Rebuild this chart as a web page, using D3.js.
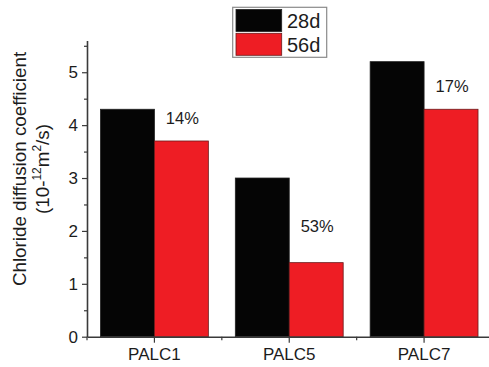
<!DOCTYPE html>
<html>
<head>
<meta charset="utf-8">
<script src="https://cdn.jsdelivr.net/npm/d3@7/dist/d3.min.js"></script>
<style>
  html, body { margin: 0; padding: 0; background: #fff; }
  svg { display: block; font-family: Arial, "Liberation Sans", sans-serif; }
</style>
</head>
<body>
<svg id="chart" width="489" height="367"></svg>
<script>
// Chloride diffusion coefficients (10^-12 m^2/s) at two curing ages
const categories = ["PALC1", "PALC5", "PALC7"];
const series = ["28d", "56d"];
const values28d = [4.3, 3.0, 5.2];
const values56d = [3.7, 1.4, 4.3];
const yTicks = [0, 1, 2, 3, 4, 5];
const yMinorTicks = [0.5, 1.5, 2.5, 3.5, 4.5, 5.5];

const colors = { "28d": "#050505", "56d": "#ee1d24" };
const textColor = "#1c1c1c";
const axisColor = "#3a3a3a";

const svg = d3.select("#chart");

const x = d3.scaleBand().domain(categories).range([87, 491.5]).paddingInner(0).paddingOuter(0);
const y = d3.scaleLinear().domain([0, 5.6]).range([336.7, 40.5]);

const barW = x.bandwidth() * 0.4;
const rows = categories.map((c, i) => ({ cat: c, v28: values28d[i], v56: values56d[i] }));

// Bars: 28d to the left of the category centre, 56d to the right
const g = svg.append("g");
rows.forEach(r => {
  const cx = x(r.cat) + x.bandwidth() / 2;
  g.append("rect")
    .attr("x", cx - barW).attr("y", y(r.v28))
    .attr("width", barW).attr("height", y(0) - y(r.v28))
    .attr("fill", colors["28d"]).attr("stroke", "#222").attr("stroke-width", 0.8);
  g.append("rect")
    .attr("x", cx).attr("y", y(r.v56))
    .attr("width", barW).attr("height", y(0) - y(r.v56))
    .attr("fill", colors["56d"]).attr("stroke", "#6a1a1a").attr("stroke-width", 0.8);
});

// Reduction from 28d to 56d, written above each 56d bar
const pct = d3.format(".0%");
const labelAnchor = [4.02, 1.98, 4.63];
rows.forEach((r, i) => {
  const cx = x(r.cat) + x.bandwidth() / 2 + barW / 2;
  svg.append("text")
    .attr("x", cx + 1).attr("y", y(labelAnchor[i]))
    .attr("text-anchor", "middle")
    .attr("font-size", 16.5).attr("fill", textColor)
    .text(pct((r.v28 - r.v56) / r.v28));
});

// Y axis with major and minor ticks
svg.append("g").attr("transform", "translate(87,0)")
  .call(d3.axisLeft(y).tickValues(yTicks).tickSize(5).tickSizeOuter(0).tickPadding(4).tickFormat(d3.format("d")));
svg.append("g").attr("transform", "translate(87,0)")
  .call(d3.axisLeft(y).tickValues(yMinorTicks).tickSize(3).tickSizeOuter(0).tickFormat(""))
  .select(".domain").remove();

// X axis with ticks at category centres and minor ticks between categories
svg.append("g").attr("transform", `translate(0,${y(0)})`)
  .call(d3.axisBottom(x).tickSize(6).tickSizeOuter(0).tickPadding(5));
const step = x.step();
const minorX = categories.map(c => x(c)).concat([x(categories[categories.length - 1]) + step]);
svg.append("g").selectAll("line").data(minorX).join("line")
  .attr("x1", d => d).attr("x2", d => d)
  .attr("y1", y(0)).attr("y2", y(0) + 3.5)
  .attr("stroke", axisColor).attr("stroke-width", 1.2);

svg.selectAll(".domain").attr("stroke", axisColor).attr("stroke-width", 1.6);
svg.selectAll(".tick line").attr("stroke", axisColor).attr("stroke-width", 1.2);
svg.selectAll(".tick text").attr("font-size", 17).attr("fill", textColor)
  .attr("font-family", "Arial, 'Liberation Sans', sans-serif");

// Y axis title on two lines
svg.append("text")
  .attr("transform", "translate(26,169) rotate(-90)")
  .attr("text-anchor", "middle").attr("font-size", 18.8).attr("fill", textColor)
  .text("Chloride diffusion coefficient");
const yTitle2 = svg.append("text")
  .attr("transform", "translate(48.5,169) rotate(-90)")
  .attr("text-anchor", "middle").attr("font-size", 18.8).attr("fill", textColor);
yTitle2.append("tspan").text("(10-");
yTitle2.append("tspan").attr("font-size", 12).attr("dy", -8).text("12");
yTitle2.append("tspan").attr("dy", 8).text("m");
yTitle2.append("tspan").attr("font-size", 12).attr("dy", -8).text("2");
yTitle2.append("tspan").attr("dy", 8).text("/s)");

// Legend
const legend = svg.append("g");
legend.append("rect")
  .attr("x", 232.7).attr("y", 7.3).attr("width", 94).attr("height", 50)
  .attr("fill", "#fff").attr("stroke", "#8a8a8a").attr("stroke-width", 1.2);
series.forEach((s, i) => {
  legend.append("rect")
    .attr("x", 236).attr("y", 9.5 + i * 23.8).attr("width", 45.7).attr("height", 22)
    .attr("fill", colors[s]).attr("stroke", i ? "#6a1a1a" : "#222").attr("stroke-width", 0.8);
  legend.append("text")
    .attr("x", 287).attr("y", 28.3 + i * 24)
    .attr("font-size", 20).attr("fill", textColor)
    .text(s);
});
</script>
</body>
</html>
